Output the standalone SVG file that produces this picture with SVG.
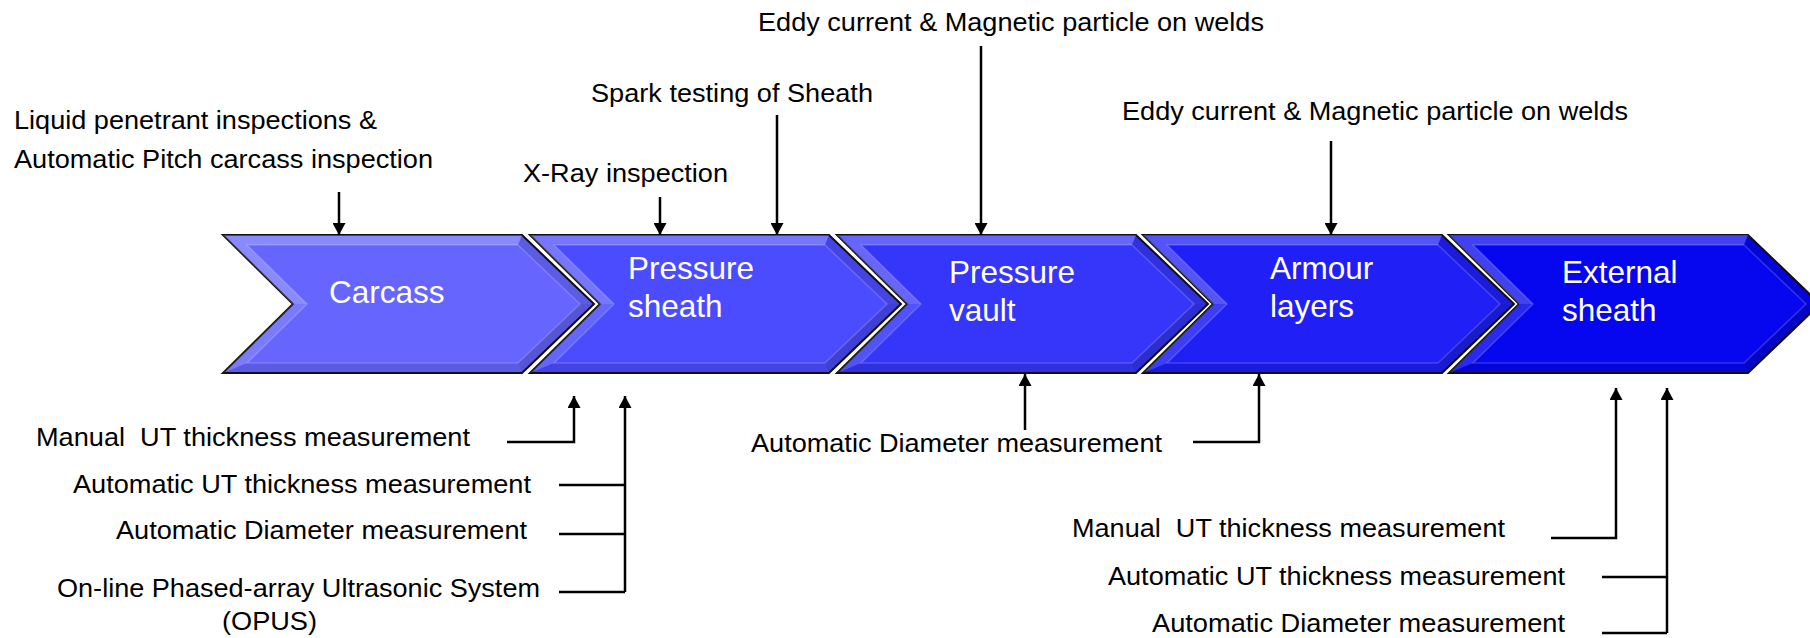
<svg xmlns="http://www.w3.org/2000/svg" width="1810" height="638" viewBox="0 0 1810 638">
  <style>
    .note { font-family: "Liberation Sans", Arial, sans-serif; font-size: 25px; fill: #000; white-space: pre; }
    .label { font-family: "Liberation Sans", Arial, sans-serif; font-size: 31.5px; fill: #fff; }
    .outline { stroke: #111; stroke-width: 2; stroke-linejoin: miter; }
    .hi1 { fill: #fff; fill-opacity: 0.24; }
    .hi2 { fill: #fff; fill-opacity: 0.14; }
    .sh1 { fill: #000; fill-opacity: 0.10; }
    .sh2 { fill: #000; fill-opacity: 0.16; }
    .edge { fill: none; stroke: #fff; stroke-opacity: 0.18; stroke-width: 1.5; }
    .wire { fill: none; stroke: #000; stroke-width: 2.5; }
  </style>
  <defs>
    <marker id="arrow" viewBox="0 0 12 13" refX="12" refY="6.5" markerWidth="12" markerHeight="13" markerUnits="userSpaceOnUse" orient="auto">
      <path d="M0,0 L12,6.5 L0,13 z" fill="#000"/>
    </marker>
    <!-- one bevelled chevron, drawn at x = 0; fill comes from the use element -->
    <g id="chevron">
      <polygon class="outline" points="0,235 299,235 371,304 299,373 0,373 70,304"/>
      <polygon class="hi1" points="0,235 299,235 295,245 24,245"/>
      <polygon class="hi1" points="0,235 24,245 84,304 70,304"/>
      <polygon class="hi2" points="70,304 84,304 24,363 0,373"/>
      <polygon class="sh1" points="0,373 24,363 295,363 299,373"/>
      <polygon class="sh1" points="299,235 371,304 357,304 295,245"/>
      <polygon class="sh2" points="371,304 299,373 295,363 357,304"/>
      <polygon class="edge" points="24,245 295,245 357,304 295,363 24,363 84,304"/>
    </g>
  </defs>
  <rect width="1810" height="638" fill="#fff"/>

  <!-- process stages -->
  <g id="node-carcass">
    <use href="#chevron" x="223" fill="#6666ff"/>
    <text class="label" x="329" y="303">Carcass</text>
  </g>
  <g id="node-pressure-sheath">
    <use href="#chevron" x="530" fill="#4c4cff"/>
    <text class="label" x="628" y="279">Pressure</text>
    <text class="label" x="628" y="317">sheath</text>
  </g>
  <g id="node-pressure-vault">
    <use href="#chevron" x="837" fill="#3636fb"/>
    <text class="label" x="949" y="283">Pressure</text>
    <text class="label" x="949" y="321">vault</text>
  </g>
  <g id="node-armour-layers">
    <use href="#chevron" x="1143" fill="#1f1ff6"/>
    <text class="label" x="1270" y="279">Armour</text>
    <text class="label" x="1270" y="317">layers</text>
  </g>
  <g id="node-external-sheath">
    <use href="#chevron" x="1449" fill="#0606ef"/>
    <text class="label" x="1562" y="283">External</text>
    <text class="label" x="1562" y="321">sheath</text>
  </g>

  <!-- inspections applied from above -->
  <g id="inspections-top">
    <text class="note" x="758" y="31" textLength="506" lengthAdjust="spacingAndGlyphs">Eddy current &amp; Magnetic particle on welds</text>
    <text class="note" x="591" y="102" textLength="282" lengthAdjust="spacingAndGlyphs">Spark testing of Sheath</text>
    <text class="note" x="14" y="129" textLength="363" lengthAdjust="spacingAndGlyphs">Liquid penetrant inspections &amp;</text>
    <text class="note" x="14" y="168" textLength="419" lengthAdjust="spacingAndGlyphs">Automatic Pitch carcass inspection</text>
    <text class="note" x="523" y="182" textLength="205" lengthAdjust="spacingAndGlyphs">X-Ray inspection</text>
    <text class="note" x="1122" y="120" textLength="506" lengthAdjust="spacingAndGlyphs">Eddy current &amp; Magnetic particle on welds</text>
  </g>

  <!-- inspections applied from below -->
  <g id="inspections-bottom">
    <text class="note" x="36" y="446" textLength="434" lengthAdjust="spacingAndGlyphs" xml:space="preserve">Manual  UT thickness measurement</text>
    <text class="note" x="73" y="493" textLength="458" lengthAdjust="spacingAndGlyphs">Automatic UT thickness measurement</text>
    <text class="note" x="116" y="539" textLength="411" lengthAdjust="spacingAndGlyphs">Automatic Diameter measurement</text>
    <text class="note" x="57" y="597" textLength="483" lengthAdjust="spacingAndGlyphs">On-line Phased-array Ultrasonic System</text>
    <text class="note" x="222" y="630" textLength="95" lengthAdjust="spacingAndGlyphs">(OPUS)</text>
    <text class="note" x="751" y="452" textLength="411" lengthAdjust="spacingAndGlyphs">Automatic Diameter measurement</text>
    <text class="note" x="1072" y="537" textLength="433" lengthAdjust="spacingAndGlyphs" xml:space="preserve">Manual  UT thickness measurement</text>
    <text class="note" x="1108" y="585" textLength="457" lengthAdjust="spacingAndGlyphs">Automatic UT thickness measurement</text>
    <text class="note" x="1152" y="632" textLength="413" lengthAdjust="spacingAndGlyphs">Automatic Diameter measurement</text>
  </g>

  <!-- connectors -->
  <g id="connectors">
    <path class="wire" d="M339,192 V235" marker-end="url(#arrow)"/>
    <path class="wire" d="M660,197 V235" marker-end="url(#arrow)"/>
    <path class="wire" d="M777,115 V235" marker-end="url(#arrow)"/>
    <path class="wire" d="M981,46 V235" marker-end="url(#arrow)"/>
    <path class="wire" d="M1331,141 V235" marker-end="url(#arrow)"/>

    <path class="wire" d="M507,442 H574 V396" marker-end="url(#arrow)"/>
    <path class="wire" d="M625,592 V396" marker-end="url(#arrow)"/>
    <path class="wire" d="M559,485 H625 M559,534 H625 M559,592 H625"/>

    <path class="wire" d="M1025,430 V374" marker-end="url(#arrow)"/>
    <path class="wire" d="M1193,442 H1259 V374" marker-end="url(#arrow)"/>

    <path class="wire" d="M1551,538 H1616 V388" marker-end="url(#arrow)"/>
    <path class="wire" d="M1667,633 V388" marker-end="url(#arrow)"/>
    <path class="wire" d="M1602,577 H1667 M1602,633 H1667"/>
  </g>
</svg>
